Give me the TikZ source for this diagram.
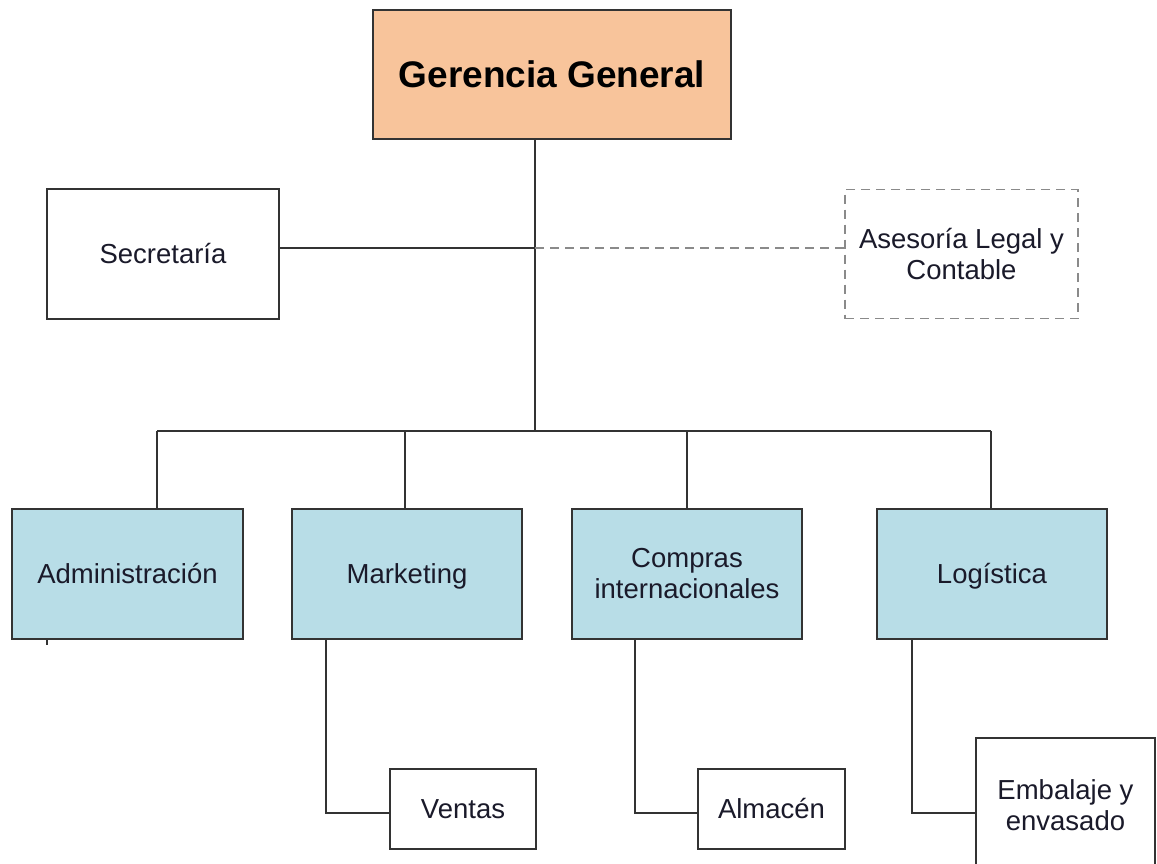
\documentclass[tikz,border=0pt]{standalone}
\usepackage{fontspec}
\setmainfont{Liberation Sans}
\definecolor{linec}{HTML}{333333}
\definecolor{peach}{HTML}{F8C49B}
\definecolor{deptblue}{HTML}{B8DDE7}
\definecolor{dashgray}{HTML}{8A8A8A}
\definecolor{textc}{HTML}{1A1A2A}
\begin{document}
\begin{tikzpicture}[x=1pt,y=-1pt,
  box/.style={draw=linec, line width=1.6pt, inner sep=0pt, align=center,
    text=textc, font=\fontsize{27.5}{31}\selectfont},
  oneline/.style={text height=19.7pt, text depth=0pt},
  topbox/.style={box, fill=peach, font=\fontsize{37}{40}\selectfont\bfseries, text=black,
    text height=26.5pt, text depth=0pt},
  dept/.style={box, fill=deptblue},
  side/.style={box, fill=white},
  advisor/.style={box, draw=dashgray, dash pattern=on 9pt off 6pt},
  link/.style={draw=linec, line width=1.6pt},
  dashlink/.style={draw=dashgray, line width=1.4pt, dash pattern=on 9pt off 6pt}]
\useasboundingbox (0,0) rectangle (1157,863);
\fill[white] (0,0) rectangle (1157,863);

% top level
\node[topbox, minimum width=358pt, minimum height=129pt] (gg) at (552,74.5) {Gerencia General};

% staff units
\node[side, oneline, minimum width=232pt, minimum height=130pt] (sec) at (163,254) {Secretaría};
\node[advisor, minimum width=233pt, minimum height=129pt] (ase) at (961.5,254) {Asesoría Legal y\\Contable};

% departments
\node[dept, oneline, minimum width=231pt, minimum height=130pt] (adm) at (127.5,574) {Administración};
\node[dept, oneline, minimum width=230pt, minimum height=130pt] (mkt) at (407,574) {Marketing};
\node[dept, minimum width=230pt, minimum height=130pt] (com) at (687,574) {Compras\\internacionales};
\node[dept, oneline, minimum width=230pt, minimum height=130pt] (log) at (992,574) {Logística};

% sub units
\node[side, oneline, minimum width=146pt, minimum height=80pt] (ven) at (463,809) {Ventas};
\node[side, oneline, minimum width=147pt, minimum height=80pt] (alm) at (771.5,809) {Almacén};
\node[side, minimum width=179pt, minimum height=134pt] (emb) at (1065.5,805) {Embalaje y\\envasado};

% connector junctions
\coordinate (hub) at (535,431);
\coordinate (mid) at (535,248);
\coordinate (busL) at (157,431);
\coordinate (busR) at (991,431);
\coordinate (mktdrop) at (326,639);
\coordinate (comdrop) at (635,639);
\coordinate (logdrop) at (912,639);
\coordinate (tick) at (47,639);

% main trunk and staff links
\draw[link] (hub |- gg.south) -- (hub);
\draw[link] (sec.east |- mid) -- (mid);
\draw[dashlink] (mid) -- (ase.west |- mid);

% department bus
\draw[link] (busL) -- (busR);
\draw[link] (busL) -- (busL |- adm.north);
\draw[link] (mkt.north -| 405,0) -- (405,431);
\draw[link] (com.north) -- (com.north |- hub);
\draw[link] (busR) -- (busR |- log.north);

% sub-unit elbows
\draw[link] (mktdrop) |- (ven.west |- 0,813);
\draw[link] (comdrop) |- (alm.west |- 0,813);
\draw[link] (logdrop) |- (emb.west |- 0,813);
\draw[draw=linec, line width=1.2pt] (tick) -- ++(0,6);
\end{tikzpicture}
\end{document}
